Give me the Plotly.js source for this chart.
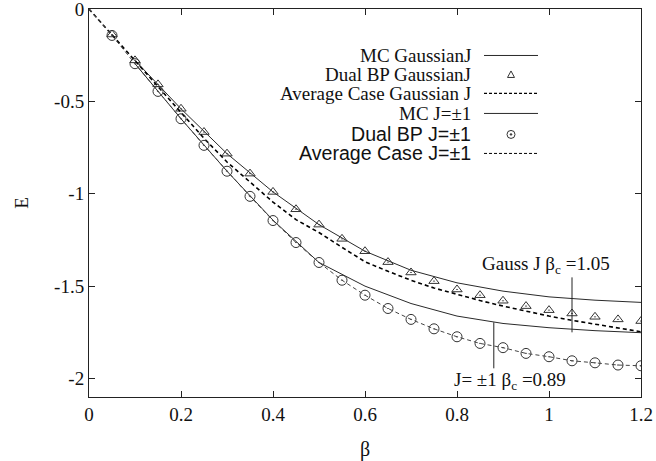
<!DOCTYPE html>
<html>
<head>
<meta charset="utf-8">
<script src="https://cdn.plot.ly/plotly-3.0.1.min.js"></script>
<style>html,body{margin:0;padding:0;background:#fff;}#chart{width:656px;height:461px;}</style>
</head>
<body>
<div id="chart"></div>
<script>
// beta grid for BP / average case (step 0.05)
const betaFine = [0.05,0.1,0.15,0.2,0.25,0.3,0.35,0.4,0.45,0.5,0.55,0.6,0.65,0.7,0.75,0.8,0.85,0.9,0.95,1.0,1.05,1.1,1.15,1.2];
const bpGauss = [-0.138,-0.278,-0.408,-0.540,-0.666,-0.783,-0.891,-0.990,-1.084,-1.167,-1.244,-1.311,-1.370,-1.426,-1.473,-1.518,-1.549,-1.579,-1.608,-1.630,-1.648,-1.666,-1.680,-1.689];
const bpPm1 = [-0.143,-0.296,-0.446,-0.594,-0.738,-0.878,-1.014,-1.145,-1.264,-1.372,-1.468,-1.549,-1.621,-1.680,-1.731,-1.774,-1.810,-1.833,-1.864,-1.882,-1.904,-1.915,-1.927,-1.931];
// average case curves (start at beta = 0)
const betaAvg = [0,0.05,0.1,0.15,0.2,0.25,0.3,0.35,0.4,0.45,0.5,0.55,0.6,0.65,0.7,0.75,0.8,0.85,0.9,0.95,1.0,1.05,1.1,1.15,1.2];
const avgGauss = [0,-0.140,-0.285,-0.425,-0.565,-0.700,-0.828,-0.936,-1.045,-1.140,-1.210,-1.290,-1.368,-1.420,-1.468,-1.510,-1.545,-1.578,-1.608,-1.636,-1.662,-1.685,-1.707,-1.727,-1.747];
const avgPm1 = [0,-0.143,-0.296,-0.446,-0.594,-0.738,-0.878,-1.014,-1.145,-1.264,-1.372,-1.468,-1.549,-1.621,-1.680,-1.731,-1.774,-1.810,-1.833,-1.864,-1.882,-1.904,-1.915,-1.927,-1.931];
// Monte Carlo (step 0.1)
const betaMC = [0.1,0.2,0.3,0.4,0.5,0.6,0.7,0.8,0.9,1.0,1.1,1.2];
const mcGauss = [-0.278,-0.540,-0.783,-0.990,-1.167,-1.311,-1.414,-1.482,-1.527,-1.558,-1.576,-1.588];
const mcPm1 = [-0.296,-0.594,-0.878,-1.143,-1.372,-1.500,-1.594,-1.662,-1.702,-1.725,-1.741,-1.752];
// critical temperatures
const betaCGauss = 1.05;
const betaCPm1 = 0.88;
const legendLabels = ["MC GaussianJ","Dual BP GaussianJ","Average Case Gaussian J","MC J=±1","Dual BP J=±1","Average Case J=±1"];
const xTicks = [0,0.2,0.4,0.6,0.8,1,1.2];
const xTickText = ["0","0.2","0.4","0.6","0.8","1","1.2"];
const yTicks = [0,-0.5,-1,-1.5,-2];
const yTickText = ["0","-0.5","-1","-1.5","-2"];

const serif = "Liberation Serif";
const sans = "Liberation Sans";
const lineCol = "#2a2a2a";

const traces = [
  {x: betaMC, y: mcGauss, mode: "lines", line: {color: lineCol, width: 1}, name: legendLabels[0]},
  {x: betaFine, y: bpGauss, mode: "markers", marker: {symbol: "triangle-up-open-dot", size: 9, color: "#333", line: {width: 1, color: "#333"}}, name: legendLabels[1]},
  {x: betaAvg, y: avgGauss, mode: "lines", line: {color: "#000", width: 1.6, dash: "4px,3px"}, name: legendLabels[2]},
  {x: betaMC, y: mcPm1, mode: "lines", line: {color: lineCol, width: 1}, name: legendLabels[3]},
  {x: betaFine, y: bpPm1, mode: "markers", marker: {symbol: "circle-open-dot", size: 10, color: "#333", line: {width: 1, color: "#333"}}, name: legendLabels[4]},
  {x: betaAvg, y: avgPm1, mode: "lines", line: {color: "#444", width: 1, dash: "4px,3px"}, name: legendLabels[5]}
];

// legend geometry in pixels -> paper
const L = 89, R = 641, T = 8.5, B = 396.7;
const px = v => (v - L) / (R - L);
const py = v => (B - v) / (B - T);
const rowY = [55, 74, 93, 113, 134, 153];
const legFonts = [serif, serif, serif, serif, sans, sans];
const legSizes = [19, 19, 19, 19, 19.6, 19.6];

const annotations = legendLabels.map((t, i) => ({
  text: t, xref: "paper", yref: "paper", x: px(473), y: py(rowY[i]),
  xanchor: "right", yanchor: "middle", showarrow: false,
  font: {family: legFonts[i], size: legSizes[i], color: "#111"}
}));
annotations.push(
  {text: "Gauss J β<sub>c</sub> =1.05", xref: "paper", yref: "paper", x: px(480), y: py(265), xanchor: "left", yanchor: "middle", showarrow: false, font: {family: serif, size: 19, color: "#111"}},
  {text: "J= ±1 β<sub>c</sub> =0.89", xref: "paper", yref: "paper", x: px(452), y: py(381), xanchor: "left", yanchor: "middle", showarrow: false, font: {family: serif, size: 19, color: "#111"}}
);

const shapes = [];
// legend samples
[0, 3].forEach(i => shapes.push({type: "line", xref: "paper", yref: "paper", x0: px(484), x1: px(538), y0: py(rowY[i]), y1: py(rowY[i]), line: {color: lineCol, width: 1}}));
shapes.push({type: "line", xref: "paper", yref: "paper", x0: px(484), x1: px(538), y0: py(rowY[2]), y1: py(rowY[2]), line: {color: "#000", width: 1.2, dash: "3px,2px"}});
shapes.push({type: "line", xref: "paper", yref: "paper", x0: px(484), x1: px(538), y0: py(rowY[5]), y1: py(rowY[5]), line: {color: "#000", width: 1, dash: "3px,2px"}});
// triangle sample
const tcx = 511, tcy = rowY[1];
shapes.push({type: "path", xref: "paper", yref: "paper",
  path: `M ${px(tcx-3.5)} ${py(tcy+3)} L ${px(tcx+3.5)} ${py(tcy+3)} L ${px(tcx)} ${py(tcy-3.5)} Z`,
  line: {color: "#333", width: 1}, fillcolor: "rgba(0,0,0,0)"});
// circle sample
const ccx = 511, ccy = rowY[4];
shapes.push({type: "circle", xref: "paper", yref: "paper", x0: px(ccx-4), x1: px(ccx+4), y0: py(ccy+4), y1: py(ccy-4), line: {color: "#333", width: 1}});
shapes.push({type: "circle", xref: "paper", yref: "paper", x0: px(ccx-0.8), x1: px(ccx+0.8), y0: py(ccy+0.8), y1: py(ccy-0.8), line: {color: "#333", width: 1}, fillcolor: "#333"});
// critical beta markers
shapes.push({type: "line", xref: "x", yref: "paper", x0: betaCGauss, x1: betaCGauss, y0: py(277), y1: py(332), line: {color: "#222", width: 1}});
shapes.push({type: "line", xref: "x", yref: "paper", x0: betaCPm1, x1: betaCPm1, y0: py(322), y1: py(368), line: {color: "#222", width: 1}});

const axisCommon = {
  showgrid: false, zeroline: false, showline: true, linecolor: "#222", linewidth: 1,
  mirror: "ticks", ticks: "inside", ticklen: 6, tickcolor: "#222", tickwidth: 1,
  ticklabeloverflow: "allow",
  tickfont: {family: serif, size: 19, color: "#111"}
};

const layout = {
  width: 656, height: 461,
  margin: {l: 89, r: 15, t: 8.5, b: 64.3},
  paper_bgcolor: "#fff", plot_bgcolor: "#fff",
  showlegend: false,
  xaxis: Object.assign({}, axisCommon, {range: [0, 1.2], tickvals: xTicks, ticktext: xTickText,
    title: {text: "β", font: {family: serif, size: 20, color: "#111"}, standoff: 18}}),
  yaxis: Object.assign({}, axisCommon, {range: [-2.1, 0], tickvals: yTicks, ticktext: yTickText,
    title: {text: "E", font: {family: serif, size: 19, color: "#111"}, standoff: 20}}),
  annotations: annotations,
  shapes: shapes
};

Plotly.newPlot("chart", traces, layout, {displayModeBar: false});
</script>
</body>
</html>
